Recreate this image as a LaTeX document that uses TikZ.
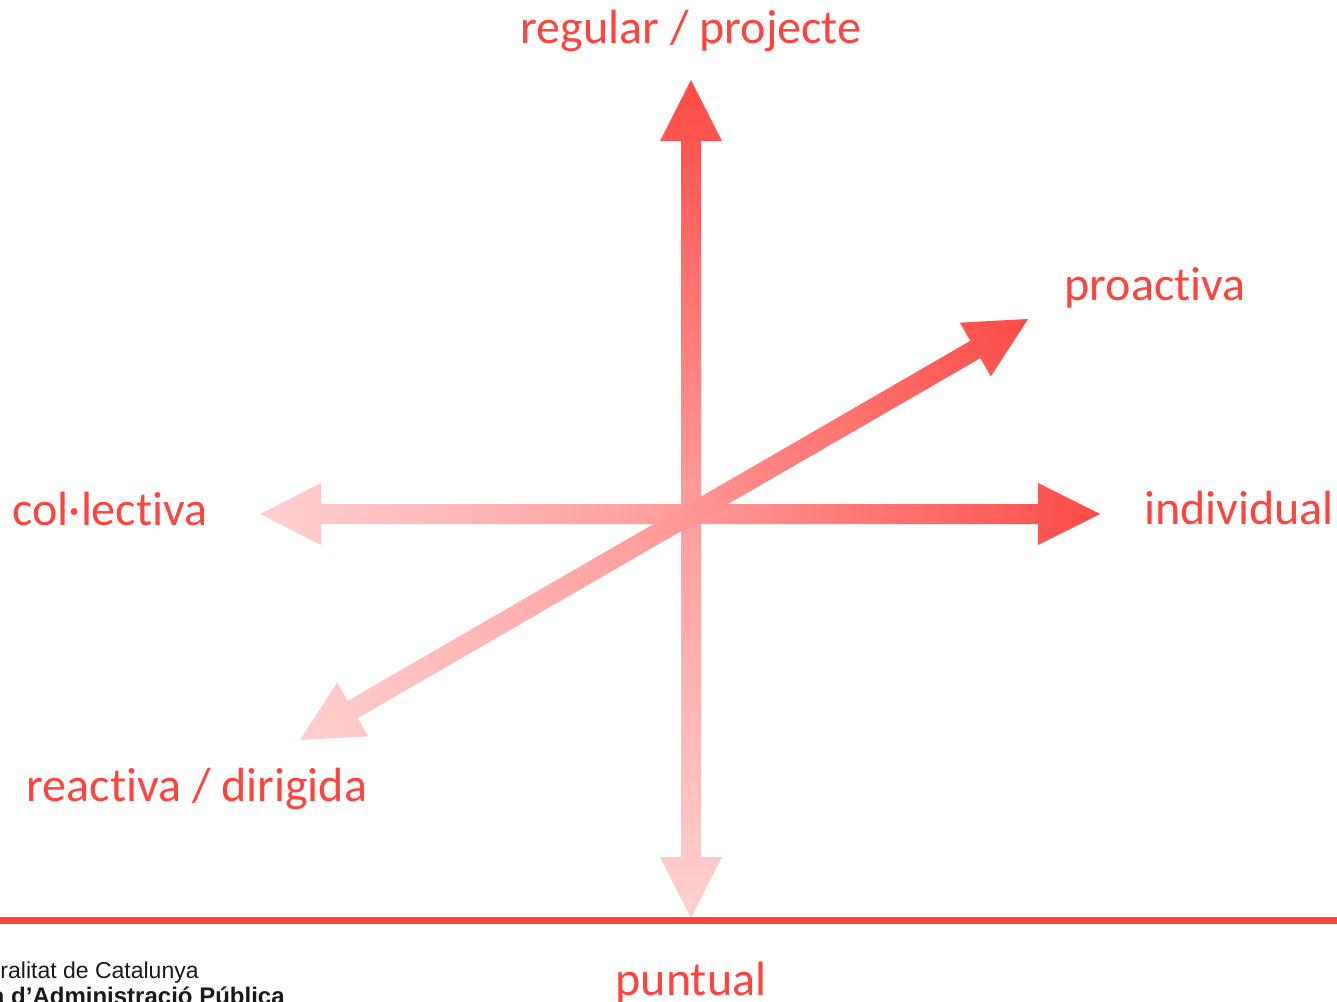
\documentclass[tikz,border=0pt]{standalone}
\usepackage{fontspec}
\setmainfont[Ligatures=CommonOff]{Carlito}
\newfontfamily\logofont{Liberation Sans}
\definecolor{tipred}{HTML}{FD4B46}
\definecolor{midred}{HTML}{FF9B9B}
\definecolor{farred}{HTML}{FFD0D0}
\definecolor{inkred}{HTML}{FF433D}
\tikzset{
    axislabel/.style={text=inkred,font=\fontsize{48}{48}\selectfont,inner sep=0pt},
    logotext/.style={anchor=west,inner sep=0pt,text=black!90},
    redramp/.style={left color=farred,right color=tipred,middle color=midred},
}
\begin{document}
\begin{tikzpicture}[x=1pt,y=-1pt]
        \clip (0,0) rectangle (1337,1001);
        \shade[top color=tipred,bottom color=farred,middle color=midred] (691,80) -- (722,141) -- (701,141) -- (701,857) -- (722,857) -- (691,918) -- (660,857) -- (681,857) -- (681,141) -- (660,141) -- cycle;
        \shade[redramp] (260,514) -- (321,483) -- (321,504) -- (1038,504) -- (1038,483) -- (1100,514) -- (1038,545) -- (1038,524) -- (321,524) -- (321,545) -- cycle;
        \shade[redramp,transform canvas={rotate around={30.04:(664,529.5)}}] (243.4,529.5) -- (304.4,498.5) -- (304.4,519.5) -- (1023.6,519.5) -- (1023.6,498.5) -- (1084.6,529.5) -- (1023.6,560.5) -- (1023.6,539.5) -- (304.4,539.5) -- (304.4,560.5) -- cycle;
        \node[axislabel] (regular) at (691,31) {regular / projecte};
        \node[axislabel] (proactiva) at (1155,288) {proactiva};
        \node[axislabel] (collectiva) at (110,509) {col·lectiva};
        \node[axislabel] (individual) at (1239,508.5) {individual};
        \node[axislabel] (reactiva) at (197,789) {reactiva / dirigida};
        \node[axislabel] (puntual) at (691,983) {puntual};
        \coordinate (ruleleft) at (0,920.5);
        \coordinate (ruleright) at (1337,920.5);
        \draw[inkred,line width=6.5pt] (ruleleft) -- (ruleright);
        \node[logotext,font=\logofont\fontsize{23}{23}\selectfont] (generalitat) at (-56,973) {Generalitat de Catalunya};
        \node[logotext,font=\logofont\bfseries\fontsize{24}{24}\selectfont] (escola) at (-73,996) {Escola d’Administració Pública};
\end{tikzpicture}
\end{document}
